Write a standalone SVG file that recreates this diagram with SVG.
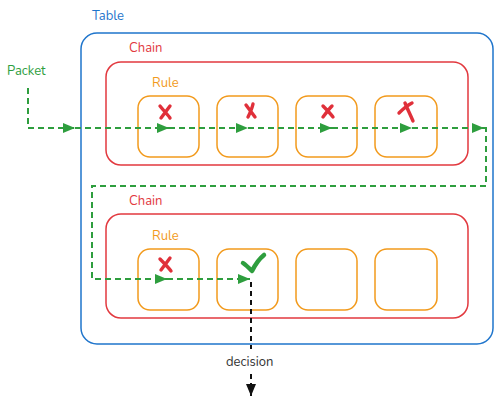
<svg xmlns="http://www.w3.org/2000/svg" width="500" height="401" viewBox="0 0 500 401">
<defs>
<style>
.lbl{font-family:"Nunito","Noto Sans","Liberation Sans",sans-serif;font-size:13px}
.table{fill:none;stroke:#1f75cc;stroke-width:1.5}
.chain{fill:none;stroke:#e2393f;stroke-width:1.5}
.rule{fill:none;stroke:#f29a1c;stroke-width:1.5}
.flow{fill:none;stroke:#2e9e3e;stroke-width:2;stroke-dasharray:6 4}
.dec{fill:none;stroke:#111;stroke-width:2;stroke-dasharray:5 4}
.x{fill:none;stroke:#e0303a;stroke-width:3.4;stroke-linecap:round;stroke-linejoin:round}
.ok{fill:none;stroke:#2e9e3e;stroke-width:4.5;stroke-linecap:round;stroke-linejoin:round}
</style>
<marker id="ag" viewBox="0 0 12 10" refX="12" refY="5" markerWidth="12" markerHeight="10" markerUnits="userSpaceOnUse" orient="auto">
<path d="M0,0 L12,5 L0,10 Z" fill="#2e9e3e"/>
</marker>
<marker id="ak" viewBox="0 0 12 10" refX="12" refY="5" markerWidth="12" markerHeight="10" markerUnits="userSpaceOnUse" orient="auto">
<path d="M0,0 L12,5 L0,10 Z" fill="#111"/>
</marker>
</defs>
<g id="table">
<rect class="table" x="81" y="33" width="412" height="311" rx="16"/>
<text class="lbl" x="92" y="20" fill="#1f75cc">Table</text>
</g>
<g id="chain1">
<rect class="chain" x="106" y="62" width="362" height="103" rx="15"/>
<text class="lbl" x="129" y="52" fill="#e2393f">Chain</text>
<text class="lbl" x="152" y="87" fill="#f29a1c">Rule</text>
</g>
<g id="chain2">
<rect class="chain" x="106" y="214" width="362" height="104" rx="15"/>
<text class="lbl" x="129" y="205" fill="#e2393f">Chain</text>
<text class="lbl" x="152" y="240" fill="#f29a1c">Rule</text>
</g>
<g id="rule1-1"><rect class="rule" x="138" y="96" width="61" height="61" rx="12"/><path class="x" d="M160,106 C164,111 168,115 170,118 M170,106 C167,110 164,114 161,118"/></g>
<g id="rule1-2"><rect class="rule" x="217" y="96" width="61" height="61" rx="12"/><path class="x" d="M246,105 C249,109 252,113 255,117 M253,104 C252,109 250,113 248,117"/></g>
<g id="rule1-3"><rect class="rule" x="296" y="96" width="61" height="61" rx="12"/><path class="x" d="M323,106 C326,109 330,113 333,117 M332,106 C329,109 326,113 323,117"/></g>
<g id="rule1-4"><rect class="rule" x="375" y="96" width="62" height="61" rx="12"/><path class="x" d="M399,113 C403,109 408,105 412,103 M405,103 C407,108 410,114 413,121"/></g>
<g id="rule2-1"><rect class="rule" x="138" y="249" width="61" height="61" rx="12"/><path class="x" d="M160,259 C164,263 168,267 171,271 M170,258 C167,262 164,266 161,270"/></g>
<g id="rule2-2"><rect class="rule" x="217" y="249" width="61" height="61" rx="12"/><path class="ok" d="M243,263 C246,265 249,268 252,271 C255,265 259,259 264,255"/></g>
<g id="rule2-3"><rect class="rule" x="296" y="249" width="61" height="61" rx="12"/></g>
<g id="rule2-4"><rect class="rule" x="375" y="249" width="62" height="61" rx="12"/></g>
<g id="packet">
<text class="lbl" x="7" y="75" fill="#2e9e3e">Packet</text>
</g>
<g id="decision">
<text class="lbl" x="226" y="366" fill="#333">decision</text>
</g>
<g id="connectors">
<path class="flow" d="M28,88 V128 H75" marker-end="url(#ag)"/>
<path class="flow" d="M75,128 H169" marker-end="url(#ag)"/>
<path class="flow" d="M169,128 H248" marker-end="url(#ag)"/>
<path class="flow" d="M248,128 H332" marker-end="url(#ag)"/>
<path class="flow" d="M332,128 H412" marker-end="url(#ag)"/>
<path class="flow" d="M412,128 H484" marker-end="url(#ag)"/>
<path class="flow" d="M484,128 H486 V186 H92 V279 H167" marker-end="url(#ag)"/>
<path class="flow" d="M167,279 H250" marker-end="url(#ag)"/>
<path class="dec" d="M251,282 V349"/>
<path class="dec" d="M251,374 V396" marker-end="url(#ak)"/>
</g>
</svg>
